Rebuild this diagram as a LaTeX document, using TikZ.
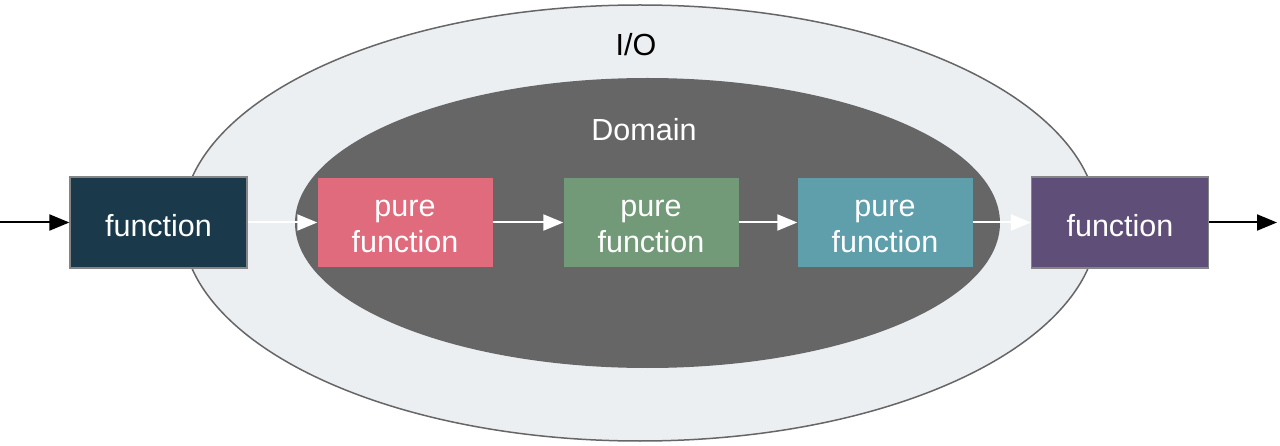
\documentclass[tikz,border=0pt]{standalone}
\usepackage{fontspec}
\setmainfont{Liberation Sans}
\usetikzlibrary{arrows.meta}
\definecolor{iofill}{HTML}{ECEFF2}
\definecolor{edgegray}{HTML}{666666}
\definecolor{domfill}{HTML}{666666}
\definecolor{cnavy}{HTML}{1A3A4C}
\definecolor{cpink}{HTML}{E06B7D}
\definecolor{cgreen}{HTML}{739A78}
\definecolor{cteal}{HTML}{5E9FAB}
\definecolor{cpurple}{HTML}{5F4E77}
\newcommand{\lowtxt}[1]{\raisebox{0pt}[\dimexpr\height+7pt\relax][\depth]{#1}}
\tikzset{
  fbox/.style={draw=edgegray!80,line width=1.2pt,minimum width=177pt,minimum height=91pt,inner sep=0pt,text=white,font=\fontsize{30.5}{36}\selectfont,align=center},
  pbox/.style={minimum width=175pt,minimum height=89pt,inner sep=0pt,text=white,font=\fontsize{30.5}{36}\selectfont,align=center},
  warrow/.style={draw=white,line width=2pt,-{Triangle[length=20pt,width=16pt]}},
  barrow/.style={draw=black,line width=2pt,-{Triangle[length=20pt,width=16pt]}},
  lbl/.style={font=\fontsize{30.5}{36}\selectfont,inner sep=0pt}
}
\begin{document}
\begin{tikzpicture}[x=1pt,y=-1pt]
\useasboundingbox (0,0) rectangle (1280,446);
\fill[white] (0,0) rectangle (1280,446);
\draw[fill=iofill,draw=edgegray,line width=1.5pt] (640,223) ellipse [x radius=458, y radius=218];
\fill[domfill] (647.5,223) ellipse [x radius=352.5, y radius=145];
\node[lbl,text=black] (io) at (636,45) {I/O};
\node[lbl,text=white] (dom) at (644,130) {Domain};
\node[fbox,fill=cnavy] (f1) at (158.5,222.5) {\lowtxt{function}};
\node[pbox,fill=cpink] (p1) at (405,222.5) {\lowtxt{pure}\\function};
\node[pbox,fill=cgreen] (p2) at (651,222.5) {\lowtxt{pure}\\function};
\node[pbox,fill=cteal] (p3) at (885,222.5) {\lowtxt{pure}\\function};
\node[fbox,fill=cpurple] (f2) at (1120,222.5) {\lowtxt{function}};
\coordinate (in) at (0,222.5);
\coordinate (out) at (1277,222.5);
\draw[barrow] (in) -- (f1.west);
\draw[warrow] (f1.east) -- (p1.west);
\draw[warrow] (p1.east) -- (p2.west);
\draw[warrow] (p2.east) -- (p3.west);
\draw[warrow] (p3.east) -- (f2.west);
\draw[barrow] (f2.east) -- (out);
\end{tikzpicture}
\end{document}
